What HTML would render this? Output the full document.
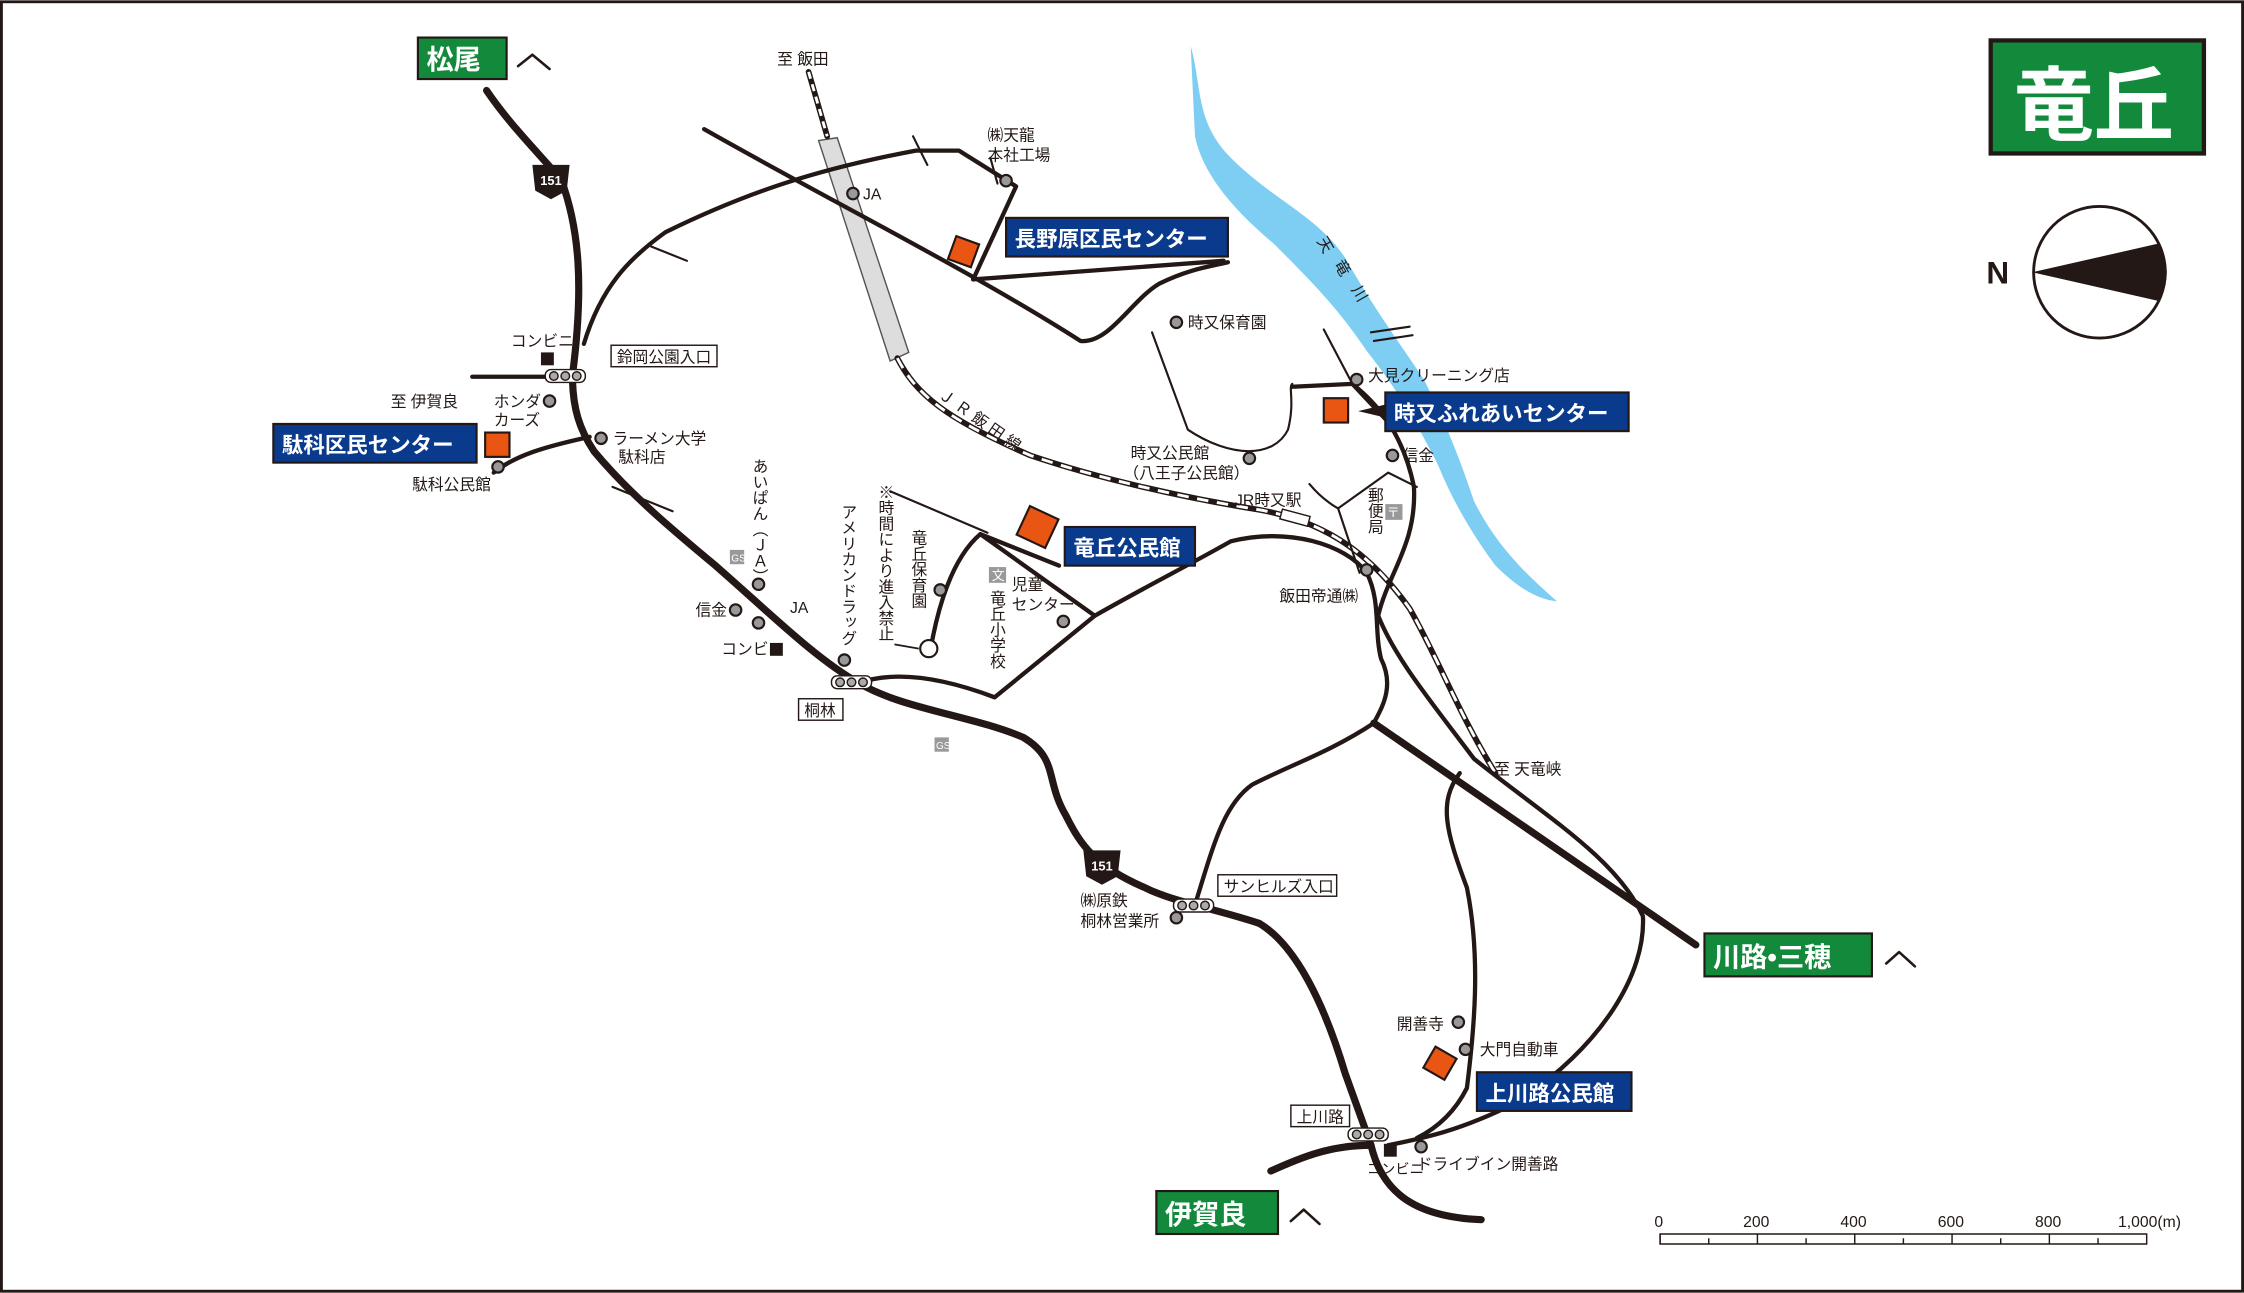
<!DOCTYPE html><html><head><meta charset="utf-8"><style>
html,body{margin:0;padding:0;background:#fff}
svg{display:block}
text{font-family:"Liberation Sans","Noto Sans CJK JP",sans-serif;font-size:11px;fill:#231815}
.b{font-weight:bold;fill:#fff;font-size:15px}
.r{fill:none;stroke:#231815;stroke-linecap:round;stroke-linejoin:round}
</style></head><body>
<svg width="2244" height="1293" viewBox="0 0 1568 903" xmlns="http://www.w3.org/2000/svg">
<rect x="1" y="1" width="1566" height="901" fill="#fff" stroke="#231815" stroke-width="2"/>
<path d="M832,32 C840,60 835,85 860,110 C890,140 920,150 940,180 C960,215 975,235 995,265 C1010,295 1020,320 1030,350 C1045,380 1065,400 1088,420 C1070,418 1055,405 1045,395 C1030,375 1015,350 1005,325 C990,295 975,270 955,245 C935,215 915,195 890,170 C860,145 840,120 835,95 Z" fill="#7ecef4"/>
<path d="M572,98 L585,96 L635,246 L622,252 Z" fill="#ddd" stroke="#555" stroke-width="1"/>
<path d="M565,50 L578,95 M627,250 C640,275 660,292 720,318 C770,335 830,348 880,356 C930,365 960,390 985,425 C1005,460 1020,500 1045,540" class="r" stroke-width="4"/>
<path d="M627,250 C640,275 660,292 720,318 C770,335 830,348 880,356 C930,365 960,390 985,425 C1005,460 1020,500 1045,540" fill="none" stroke="#fff" stroke-width="2" stroke-dasharray="8 6"/>
<path d="M565,50 L578,95" fill="none" stroke="#fff" stroke-width="2" stroke-dasharray="5 4"/>
<rect x="895" y="358" width="20" height="7" fill="#fff" stroke="#231815" transform="rotate(15 905 361)"/>
<g class="r" stroke-width="3">
<path d="M408,240 C420,200 440,180 465,162 C520,135 570,118 640,105 L670,105 L710,130 L680,195"/>
<path d="M492,90 C580,140 680,190 755,238 C775,240 790,210 810,198 C830,188 845,186 858,183"/>
<path d="M680,195 L855,182"/>
<path d="M330,263 L408,263"/>
<path d="M345,330 C360,318 380,312 412,305"/>
<path d="M600,477 C620,470 650,470 695,487 L765,430 L685,373 L740,395"/>
<path d="M650,455 C655,425 665,390 685,373 M765,430 C800,410 830,395 860,378 C900,368 940,380 955,400 C965,420 960,440 965,460 C975,480 965,495 960,505"/>
<path d="M960,505 C930,525 900,535 875,548 C855,562 848,590 835,632"/>
<path d="M945,268 C960,280 980,300 988,340 C990,380 970,400 963,430 C975,460 1000,490 1030,530 C1080,570 1130,600 1148,640 C1150,680 1120,730 1060,770 C1020,790 995,795 970,800"/>
<path d="M1020,540 C1005,560 1010,580 1025,620 C1035,670 1030,720 1025,760 C1015,780 1000,790 990,795"/>
<path d="M903,270 L945,268 L975,300"/>
</g>
<g class="r" stroke-width="1.5">
<path d="M805,232 L830,300 C860,320 890,320 900,300 C905,280 900,270 903,268"/>
<path d="M945,268 L925,230 M622,343 L690,372 M935,355 L970,330 L990,340 M935,355 L950,400 M915,338 C925,350 935,355 935,355"/>
<path d="M455,172 L480,182 M428,340 L470,357 M638,95 L648,115 M692,110 L697,128"/>
<path d="M958,232 L985,228 M960,238 L987,234"/>
</g>
<g class="r" stroke-width="5">
<path d="M340,63 C355,85 370,100 392,125 C405,160 408,200 400,262 C400,285 405,300 415,315 C440,345 470,370 500,395 C540,430 570,460 600,477 C630,495 680,500 715,515 C740,530 730,545 745,570 C755,590 765,605 800,620 C820,630 850,635 880,645 C905,660 925,700 940,750 L958,800 C965,830 985,850 1035,852"/>
<path d="M888,818 C910,808 930,800 958,800"/>
<path d="M960,505 L1185,660"/>
</g>
<g><path d="M372,115 L398,115 L396,133 L385,139 L374,133 Z" fill="#231815"/><text x="385" y="129" text-anchor="middle" style="font-size:9px;fill:#fff;font-weight:bold">151</text>
<path d="M757,594 L783,594 L781,612 L770,618 L759,612 Z" fill="#231815"/><text x="770" y="608" text-anchor="middle" style="font-size:9px;fill:#fff;font-weight:bold">151</text></g>
<g fill="#aaa" stroke="#231815" stroke-width="1"><rect x="381" y="258" width="28" height="9" rx="4" fill="#fff"/><circle cx="387" cy="262.5" r="3"/><circle cx="395" cy="262.5" r="3"/><circle cx="403" cy="262.5" r="3"/>
<rect x="581" y="472" width="28" height="9" rx="4" fill="#fff"/><circle cx="587" cy="476.5" r="3"/><circle cx="595" cy="476.5" r="3"/><circle cx="603" cy="476.5" r="3"/>
<rect x="820" y="628" width="28" height="9" rx="4" fill="#fff"/><circle cx="826" cy="632.5" r="3"/><circle cx="834" cy="632.5" r="3"/><circle cx="842" cy="632.5" r="3"/>
<rect x="942" y="788" width="28" height="9" rx="4" fill="#fff"/><circle cx="948" cy="792.5" r="3"/><circle cx="956" cy="792.5" r="3"/><circle cx="964" cy="792.5" r="3"/></g>
<g fill="#999" stroke="#231815" stroke-width="1.5">
<circle cx="596" cy="135" r="4"/><circle cx="703" cy="126" r="4"/><circle cx="822" cy="225" r="4"/><circle cx="948" cy="265" r="4"/><circle cx="973" cy="318" r="4"/><circle cx="873" cy="320" r="4"/><circle cx="955" cy="398" r="4"/><circle cx="384" cy="280" r="4"/><circle cx="420" cy="306" r="4"/><circle cx="348" cy="326" r="4"/><circle cx="530" cy="408" r="4"/><circle cx="530" cy="435" r="4"/><circle cx="514" cy="426" r="4"/><circle cx="590" cy="461" r="4"/><circle cx="657" cy="412" r="4"/><circle cx="743" cy="434" r="4"/><circle cx="822" cy="641" r="4"/><circle cx="1019" cy="714" r="4"/><circle cx="1024" cy="733" r="4"/><circle cx="993" cy="801" r="4"/></g>
<circle cx="649" cy="453" r="6" fill="#fff" stroke="#231815" stroke-width="1.5"/>
<path d="M625,450 L642,453" stroke="#231815" stroke-width="1.2"/>
<g fill="#231815"><rect x="378" y="246" width="9" height="9"/><rect x="538" y="449" width="9" height="9"/><rect x="967" y="799" width="9" height="9"/></g>
<g fill="#999"><rect x="691" y="396" width="12" height="11"/><rect x="968" y="352" width="12" height="11"/><rect x="510" y="384" width="10" height="10"/><rect x="653" y="515" width="10" height="10"/></g>
<text x="693" y="405" style="fill:#fff;font-size:9px">文</text><text x="969" y="361" style="fill:#fff;font-size:9px">〒</text>
<text x="511" y="392" style="fill:#fff;font-size:7px">GS</text><text x="654" y="523" style="fill:#fff;font-size:7px">GS</text>
<g fill="#e95513" stroke="#231815" stroke-width="1.5">
<rect x="665" y="167" width="17" height="17" transform="rotate(20 673 175)"/><rect x="339" y="302" width="17" height="17"/><rect x="714" y="357" width="22" height="22" transform="rotate(25 725 368)"/><rect x="925" y="278" width="17" height="17"/><rect x="998" y="734" width="17" height="17" transform="rotate(30 1006 742)"/></g>
<path d="M949,287 L970,282 L970,292 Z" fill="#231815"/>
<g fill="#0a3a8c" stroke="#231815" stroke-width="1.5">
<rect x="703" y="152" width="155" height="27"/><rect x="191" y="296" width="142" height="27"/><rect x="744" y="368" width="91" height="27"/><rect x="968" y="274" width="170" height="27"/><rect x="1032" y="749" width="108" height="27"/></g>
<text class="b" x="709" y="172">長野原区民センター</text><text class="b" x="197" y="316">駄科区民センター</text><text class="b" x="750" y="388">竜丘公民館</text><text class="b" x="974" y="294">時又ふれあいセンター</text><text class="b" x="1038" y="769">上川路公民館</text>
<g fill="#13893c" stroke="#231815" stroke-width="1.5"><rect x="292" y="26" width="62" height="29"/><rect x="1191" y="652" width="117" height="30"/><rect x="808" y="832" width="85" height="30"/><rect x="1391" y="28" width="149" height="79" stroke-width="3"/></g>
<text class="b" x="298" y="48" style="font-size:19px">松尾</text><text class="b" x="1197" y="675" style="font-size:19px">川路•三穂</text><text class="b" x="814" y="855" style="font-size:19px">伊賀良</text>
<text class="b" x="1407" y="93" style="font-size:56px">竜丘</text>
<g class="r" stroke-width="1.8"><path d="M362,46 L372,38 L384,48"/><path d="M1318,673 L1327,665 L1338,675"/><path d="M902,853 L911,845 L922,855"/></g>
<circle cx="1467" cy="190" r="46" fill="#fff" stroke="#231815" stroke-width="2"/>
<path d="M1420,190 L1508,170 C1516,182 1516,198 1508,210 Z" fill="#231815"/>
<text x="1388" y="198" style="font-size:22px;font-weight:bold">N</text>
<g fill="#fff" stroke="#231815" stroke-width="1"><rect x="427" y="241" width="74" height="15"/><rect x="558" y="488" width="31" height="15"/><rect x="851" y="611" width="83" height="15"/><rect x="902" y="772" width="41" height="15"/></g>
<text x="431" y="253">鈴岡公園入口</text><text x="562" y="500">桐林</text><text x="855" y="623">サンヒルズ入口</text><text x="906" y="784">上川路</text>
<text x="543" y="45">至 飯田</text><text x="690" y="98">㈱天龍</text><text x="690" y="112">本社工場</text><text x="603" y="139">JA</text><text x="830" y="229">時又保育園</text><text x="956" y="266">大見クリーニング店</text><text x="980" y="322">信金</text>
<text x="790" y="320">時又公民館</text><text x="785" y="334">（八王子公民館）</text><text x="863" y="353">JR時又駅</text><text x="894" y="420">飯田帝通㈱</text>
<text x="357" y="242">コンビニ</text><text x="273" y="284">至 伊賀良</text><text x="345" y="284">ホンダ</text><text x="345" y="297">カーズ</text><text x="428" y="310">ラーメン大学</text><text x="432" y="323">駄科店</text><text x="288" y="342">駄科公民館</text>
<text x="486" y="430">信金</text><text x="552" y="428">JA</text><text x="504" y="457">コンビニ</text><text x="755" y="633">㈱原鉄</text><text x="755" y="647">桐林営業所</text>
<text x="976" y="719">開善寺</text><text x="1034" y="737">大門自動車</text><text x="990" y="817">ドライブイン開善路</text><text x="955" y="820" style="font-size:10px">コンビニ</text><text x="1044" y="541">至 天竜峡</text>
<text x="707" y="412">児童</text><text x="707" y="426">センター</text>
<g style="writing-mode:vertical-rl">
<text x="530" y="320">あいぱん（ＪＡ）</text><text x="592" y="352">アメリカンドラッグ</text><text x="618" y="338">※時間により進入禁止</text><text x="641" y="370">竜丘保育園</text><text x="696" y="412">竜丘小学校</text><text x="960" y="340">郵便局</text>
</g>
<text x="920" y="168" transform="rotate(60 920 168)">天</text><text x="932" y="184" transform="rotate(60 932 184)">竜</text><text x="944" y="202" transform="rotate(60 944 202)">川</text>
<text x="655" y="277" transform="rotate(35 655 277)">Ｊ Ｒ 飯 田 線</text>
<path d="M1160,862 L1500,862 L1500,869 L1160,869 Z" fill="none" stroke="#231815"/>
<path d="M1160,862 V869 M1194,865 V869 M1228,862 V869 M1262,865 V869 M1296,862 V869 M1330,865 V869 M1364,862 V869 M1398,865 V869 M1432,862 V869 M1466,865 V869" stroke="#231815"/>
<text x="1156" y="857">0</text><text x="1218" y="857">200</text><text x="1286" y="857">400</text><text x="1354" y="857">600</text><text x="1422" y="857">800</text><text x="1480" y="857">1,000(m)</text>
</svg>
</body></html>
